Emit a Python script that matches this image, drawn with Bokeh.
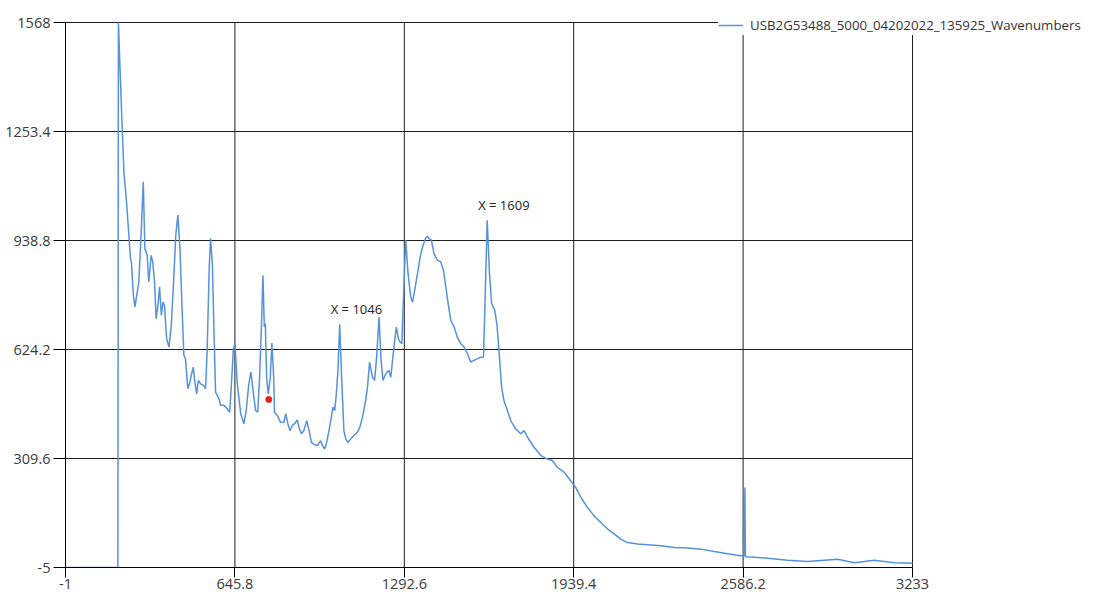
from bokeh.plotting import figure
from bokeh.models import FixedTicker, Legend, LegendItem, Range1d, ColumnDataSource
from bokeh.core.properties import value
from bokeh.embed import file_html
from bokeh.resources import INLINE

series_name = "USB2G53488_5000_04202022_135925_Wavenumbers"

wavenumber = [
    -1, 199, 201, 209, 216, 222, 232, 241, 247, 251,
    258, 264, 273, 279, 288, 296, 302, 311, 317, 326,
    332, 339, 345, 352, 358, 365, 371, 377, 385, 394,
    403, 413, 420, 428, 436, 445, 451, 457, 466, 474,
    479, 487, 493, 500, 506, 515, 527, 534, 540, 548,
    553, 560, 566, 572, 585, 591, 604, 617, 626, 633,
    640, 646, 655, 668, 680, 689, 699, 707, 715, 725,
    733, 740, 747, 753, 758, 762, 767, 773, 781, 787,
    794, 797, 808, 820, 833, 840, 848, 856, 865, 874,
    884, 890, 900, 909, 920, 929, 938, 948, 961, 973,
    980, 989, 996, 1005, 1014, 1020, 1027, 1033, 1039, 1046,
    1053, 1062, 1069, 1077, 1088, 1100, 1113, 1123, 1133, 1145,
    1152, 1160, 1171, 1179, 1187, 1196, 1204, 1211, 1222, 1234,
    1241, 1253, 1262, 1272, 1283, 1291, 1298, 1307, 1317, 1324,
    1332, 1343, 1353, 1362, 1374, 1381, 1387, 1396, 1406, 1419,
    1432, 1442, 1451, 1460, 1470, 1483, 1495, 1508, 1521, 1534,
    1546, 1559, 1572, 1585, 1595, 1602, 1609, 1618, 1626, 1638,
    1646, 1654, 1664, 1673, 1686, 1699, 1718, 1737, 1750, 1763,
    1788, 1814, 1839, 1858, 1877, 1903, 1922, 1947, 1967, 1992,
    2017, 2043, 2069, 2094, 2119, 2145, 2183, 2221, 2272, 2323,
    2374, 2425, 2476, 2527, 2578, 2591, 2593, 2595, 2603, 2680,
    2756, 2833, 2947, 3011, 3087, 3163, 3233,
]

intensity = [
    -5, -5, 1568, 1397, 1253, 1137, 1050, 954, 887, 873,
    781, 747, 790, 819, 964, 1108, 916, 896, 819, 896,
    877, 819, 713, 752, 805, 723, 761, 752, 655, 631,
    694, 838, 954, 1012, 916, 723, 607, 598, 511, 530,
    549, 573, 530, 496, 535, 525, 520, 511, 626, 867,
    945, 867, 675, 501, 482, 463, 463, 453, 443, 530,
    626, 641, 525, 439, 410, 448, 525, 559, 506, 448,
    443, 544, 689, 838, 689, 699, 544, 496, 544, 643,
    544, 443, 434, 414, 414, 439, 410, 390, 405, 410,
    421, 400, 381, 390, 419, 390, 356, 350, 347, 361,
    347, 337, 356, 390, 429, 458, 448, 496, 560, 697,
    549, 390, 366, 356, 366, 376, 385, 400, 429, 477,
    515, 588, 544, 535, 602, 718, 593, 535, 554, 564,
    544, 631, 689, 650, 641, 805, 940, 843, 776, 761,
    795, 843, 891, 920, 945, 951, 945, 940, 901, 882,
    877, 853, 805, 757, 708, 689, 660, 641, 631, 612,
    588, 593, 598, 602, 602, 795, 997, 843, 757, 737,
    699, 622, 515, 477, 448, 419, 395, 381, 390, 371,
    342, 318, 308, 304, 284, 270, 251, 226, 197, 168,
    144, 125, 106, 92, 77, 67, 63, 61, 58, 53,
    51, 48, 41, 35, 29, 29, 226, 27, 26, 22,
    16, 12, 19, 9, 16, 9, 7,
]

x_ticks = [-1, 645.8, 1292.6, 1939.4, 2586.2, 3233]
x_tick_labels = ["-1", "645.8", "1292.6", "1939.4", "2586.2", "3233"]
y_ticks = [-5, 309.6, 624.2, 938.8, 1253.4, 1568]
y_tick_labels = ["-5", "309.6", "624.2", "938.8", "1253.4", "1568"]

peak_x = [1046, 1609]
peak_y = [697, 997]
peak_labels = ["X = 1046", "X = 1609"]

marker_x = [775]
marker_y = [480]

LINE = "#5592de"
GRID = "#1e1e1e"
FONT = "Open Sans"

# layout (pixels)
W, H = 1091, 598
LEFT, TOP, BOTTOM = 65, 4, 31
PLOT_W, PLOT_H = 847, 545          # pixel span of the labelled axis ranges
EXTRA_R = W - LEFT - PLOT_W         # room to the right of the plot for the legend
EXTRA_T = 22 - TOP                  # room above the plot

xspan = x_ticks[-1] - x_ticks[0]
yspan = y_ticks[-1] - y_ticks[0]
x_end = x_ticks[-1] + xspan * EXTRA_R / PLOT_W
y_end = y_ticks[-1] + yspan * EXTRA_T / PLOT_H

p = figure(width=W, height=H, output_backend="svg", toolbar_location=None,
           x_range=Range1d(x_ticks[0], x_end), y_range=Range1d(y_ticks[0], y_end),
           min_border_left=LEFT, min_border_right=0, min_border_top=TOP, min_border_bottom=BOTTOM)
p.background_fill_color = "white"
p.border_fill_color = "white"
p.outline_line_color = None
p.xgrid.visible = False
p.ygrid.visible = False

# grid lines bounded to the labelled ranges
p.segment(x0=x_ticks, x1=x_ticks, y0=[y_ticks[0]] * len(x_ticks), y1=[y_ticks[-1]] * len(x_ticks),
          line_color=GRID, line_width=1)
p.segment(x0=[x_ticks[0]] * len(y_ticks), x1=[x_ticks[-1]] * len(y_ticks), y0=y_ticks, y1=y_ticks,
          line_color=GRID, line_width=1)

spec = p.line(wavenumber, intensity, line_color=LINE, line_width=1.5)

src = ColumnDataSource(dict(x=peak_x, y=peak_y, t=peak_labels))
p.text(x="x", y="y", text="t", source=src, x_offset=-9, y_offset=-15,
       text_align="left", text_baseline="middle", text_font=value(FONT),
       text_font_size="13px", text_color="#222222")

p.scatter(marker_x, marker_y, size=6, color="#e8211c")

for ax, ticks, labels, bnds in ((p.xaxis[0], x_ticks, x_tick_labels, (x_ticks[0], x_ticks[-1])),
                                (p.yaxis[0], y_ticks, y_tick_labels, (y_ticks[0], y_ticks[-1]))):
    ax.ticker = FixedTicker(ticks=ticks)
    ax.major_label_overrides = dict(zip(ticks, labels))
    ax.bounds = bnds
    ax.axis_line_color = "black"
    ax.major_tick_line_color = "black"
    ax.major_tick_in = 0
    ax.minor_tick_line_color = None
    ax.major_label_text_font = FONT
    ax.major_label_text_font_size = "14.5px"
    ax.major_label_text_color = "#3a3a3a"
p.yaxis.major_tick_out = 12
p.yaxis.major_label_standoff = 3
p.xaxis.major_tick_out = 10
p.xaxis.major_label_standoff = 1

legend = Legend(items=[LegendItem(label=series_name, renderers=[spec])],
                location=(653, 532), padding=4, margin=0, spacing=0,
                glyph_width=25, glyph_height=20, label_height=20, label_standoff=7,
                label_text_font=FONT, label_text_font_size="13.3px", label_text_color="#333333",
                border_line_color=None, background_fill_color="white", background_fill_alpha=1)
p.add_layout(legend)

open("out.html", "w").write(file_html(p, INLINE))
